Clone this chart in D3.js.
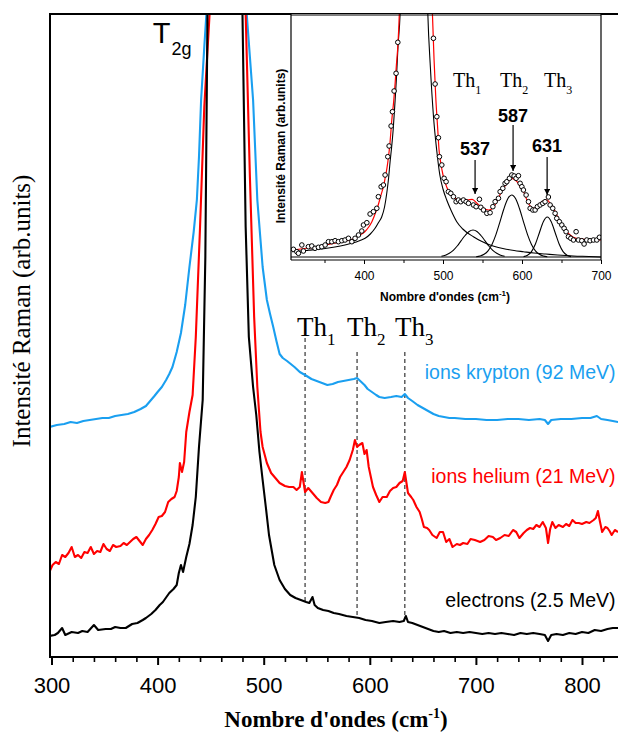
<!DOCTYPE html>
<html><head><meta charset="utf-8">
<script src="https://cdn.jsdelivr.net/npm/d3@7"></script>
<style>body{margin:0;background:#fff}svg{display:block}</style>
</head><body>
<svg id="c" width="618" height="733"></svg>
<script>
// ---------- DATA (wavenumber cm-1, intensity arb.units) ----------
const seriesNames = ["ions krypton (92 MeV)", "ions helium (21 MeV)", "electrons (2.5 MeV)"];
const xTicks = [300, 400, 500, 600, 700, 800];
const insetTicks = [400, 500, 600, 700];
const peakNames = ["Th", "Th", "Th"];
const peakIdx = ["1", "2", "3"];
const peakValues = ["537", "587", "631"];

const electrons = [[298,21],[303,22],[306,24],[310,29],[313,22],[319,25],[325,24],[329,26],[334,25],[340,32],[344,27],[351,28],[356,28],[360,30],[365,29],[370,29],[376,33],[381,34],[386,37],[389,39],[394,43],[398,47],[402,52],[405,55],[411,64],[415,68],[418,72],[420,84],[422,92],[424,85],[427,100],[430,113],[433,132],[436,160],[439,210],[442.5,257],[445,400],[447,643],[455,1400],[463,2200],[471,1400],[480,643],[483,430],[486,320],[490,270],[493,242],[496,205],[499,177],[502,150],[505,122],[510,92],[515,77],[520,68],[525,62],[530,59],[535,57],[540,55],[543,54],[546,60],[548,52],[551,49],[556,47],[561,46],[566,44],[571,43],[578,41],[584,40],[590,39],[596,37],[602,36],[609,34],[615,35],[622,36],[628,35],[632,36],[634,41],[636,35],[640,34],[645,32],[650,30],[655,28],[660,26],[665,25],[670,26],[676,24],[682,25],[688,24],[694,25],[700,24],[706,23],[712,24],[718,23],[724,24],[730,23],[736,22],[742,24],[748,23],[754,24],[760,23],[765,22],[768,16],[771,22],[776,23],[782,22],[788,24],[794,23],[800,25],[806,24],[812,27],[818,26],[824,28],[829,29],[834,29]];

const helium = [[298,85],[301,92],[304,95],[307,93],[310,102],[313,100],[316,104],[319,110],[322,100],[325,102],[328,99],[331,105],[334,104],[337,110],[340,103],[343,106],[346,105],[349,113],[352,108],[355,106],[358,112],[361,110],[365,111],[368,114],[371,112],[374,115],[377,118],[380,120],[383,116],[386,112],[389,118],[392,122],[395,127],[398,133],[401,140],[404,141],[407,145],[410,155],[413,158],[416,160],[418,166],[420,180],[421,194],[423,185],[425,195],[427,225],[430,245],[433,262],[436,320],[440,430],[444,550],[449,643],[458,1400],[465,2200],[474,1400],[483,643],[487,480],[491,340],[494,270],[497,225],[499,210],[503,194],[507,184],[511,179],[515,174],[520,171],[524,170],[528,170],[531,167],[534,170],[536,185],[539,165],[542,169],[546,164],[550,159],[554,155],[558,154],[561,155],[563,160],[566,167],[569,172],[572,180],[575,185],[578,190],[581,197],[584,207],[586,217],[588,210],[590,212],[593,214],[595,203],[597,207],[599,190],[601,180],[603,170],[606,162],[609,155],[612,160],[616,160],[619,166],[622,169],[625,170],[628,174],[631,176],[633,185],[636,164],[639,160],[641,157],[644,150],[647,145],[649,138],[651,130],[654,129],[656,127],[659,122],[663,119],[666,125],[669,125],[672,115],[675,118],[678,110],[682,113],[685,112],[688,114],[692,113],[695,118],[699,117],[704,115],[708,117],[712,121],[716,120],[719,117],[723,119],[727,122],[731,121],[735,127],[738,125],[741,119],[745,124],[748,127],[751,129],[754,128],[757,132],[760,130],[763,135],[766,129],[768,114],[770,128],[772,135],[775,129],[778,132],[782,130],[785,133],[788,131],[791,137],[794,134],[797,134],[800,133],[804,135],[807,134],[811,137],[813,139],[815,146],[817,135],[819,125],[822,130],[824,129],[826,126],[828,122],[831,127],[834,125]];

const krypton = [[298,230],[305,232],[312,233],[318,235],[324,234],[330,236],[336,237],[342,238],[348,239],[354,239],[360,241],[366,242],[372,243],[378,245],[384,248],[389,251],[393,256],[397,261],[400,265],[404,270],[408,277],[411,283],[414,290],[418,305],[422,324],[426,352],[430,390],[434,425],[437,457],[439,500],[441,557],[444,610],[446,643],[455,1400],[465,2200],[475,1400],[484,643],[487,600],[490,557],[494,457],[499,390],[503,357],[506,343],[509,330],[512,316],[515,303],[518,299],[522,296],[529,290],[534,285],[539,282],[545,278],[550,276],[555,274],[560,272],[565,273],[570,275],[575,276],[580,277],[585,278],[588,279],[592,275],[595,272],[598,268],[602,265],[606,262],[609,260],[614,259],[620,260],[625,261],[630,260],[633,263],[636,259],[640,256],[645,252],[650,249],[655,246],[660,243],[665,241],[670,240],[675,239],[680,239],[690,238],[700,238],[710,237],[720,237],[730,238],[740,238],[750,237],[760,238],[765,237],[768,233],[771,237],[780,238],[790,238],[800,239],[808,239],[814,241],[818,238],[824,237],[829,236],[834,235]];

// inset: measured points (open circles)
const insetPoints = [[310.6,7.7],[315,5.3],[317,3.7],[321.3,12],[323.3,6],[329.6,10.3],[333.9,11],[338,8.7],[342.3,9.7],[346.6,10.3],[350.8,12],[355,15.3],[359.3,15.3],[363.4,16.3],[367.6,15.3],[371.9,16.3],[376,17],[380.3,18.7],[384.6,15.3],[388.7,18.7],[393,22],[397.2,26],[399.3,32],[403.6,34.3],[407.7,43],[411.9,45.3],[416.2,48.7],[418.2,60.3],[421.7,70.3],[424.6,72],[426.7,82],[430.1,100.3],[431.8,111],[434.3,131],[436,145.3],[438.1,166],[440.6,183.7],[442.8,214.7],[487.9,218.7],[490,173],[492.2,140.3],[494.2,119.3],[495.5,100.3],[498.5,92],[501.4,78.7],[503.9,75.3],[506.8,65.3],[509.9,63.7],[513.2,60.3],[516.6,55.3],[519.5,57],[522.5,55.3],[525.8,57],[529.3,55.3],[532.2,53.7],[538.5,52],[541.9,50.3],[546.1,57.7],[547.9,49.7],[551.2,47],[555.5,43.7],[559.6,44.3],[563.1,50.3],[566,55.3],[570.2,58.7],[572.3,65.3],[575.7,68.7],[578.6,73.7],[580.8,75.3],[584.1,78.7],[587.1,82],[590,81],[592.5,78.7],[595.5,81.3],[597.6,73.7],[599.8,70.3],[601.8,67],[605.2,62],[608.2,55.3],[610.3,48.7],[613.7,47],[616.6,47],[619.5,50.3],[622.9,52],[626.3,53.7],[629.2,55.3],[633.4,60],[635.6,52],[638.9,48.7],[641.9,43.7],[644,38.7],[647.3,35.3],[650.4,32],[653.3,28.7],[655.8,25.3],[658.8,20.3],[661.8,18.7],[665.1,17],[668.5,25.3],[671.4,17],[675.7,16.3],[678.6,13],[682,17],[686.2,16.3],[690.4,17],[694.7,17],[698,19.7]];

// inset: total fit (red)
const insetFit = [[309,7],[320,8],[330,9],[342,10.3],[355,12.5],[370,15],[385,17.7],[395,22],[401,25.3],[406,30],[410,35.3],[414,43],[418,52],[421.5,62],[424.6,70.3],[427,80],[429,88.7],[431,100],[433,115],[435.2,137],[437.5,155],[439.4,173.7],[441,192],[442.8,210.3],[444.7,243],[455,700],[465,1200],[475,700],[486.6,243.7],[488.7,197],[490.8,160.3],[493.4,127],[495,107],[497,95],[500,82],[504.7,70],[509,63],[513,60],[518,58],[522,57],[531,57],[537,57.7],[543,53.7],[551,48.7],[558,47],[564,50],[568,55],[572,62],[576,68],[581,73.7],[587,78.7],[593.6,75.3],[598,70],[602,65.3],[608,53.7],[614.6,48.7],[619,50],[623,53.7],[628,56.5],[632,57],[636,53],[640,48.7],[644,42],[648,35.3],[652,29.5],[656.8,25.3],[661,22],[665,19.7],[670,18.5],[678,17.7],[690,17.2],[700,17]];

// inset: T2g component (black)
const insetT2g = [[309,5.3],[320,6],[330,6.8],[342,7.7],[355,9],[370,11],[384.6,13.7],[395,16.5],[401.4,18.7],[408,23],[414,28.7],[418,34],[422.5,40.3],[426,50],[428.8,63.7],[431,78],[433,95],[435,110],[437,128],[439,152],[441,178],[443,210],[445.7,243],[455,700],[463,1200],[472,700],[480.8,243],[484,190],[488,140],[492,107],[496,82],[500,68],[504.7,57],[510,47],[517.4,35.3],[525,28],[538.5,20.3],[548,16],[559.6,12],[570,9.5],[580,7.8],[590,6.5],[601.8,5.3],[615,4],[630,3],[645,2],[665,1],[685,0.5],[700,0]];

// inset: Th components
const insetTh1 = [[498,0.8],[503,1.8],[508,3.7],[513,6.7],[518,11],[523,16.4],[528,21.5],[533,25.5],[538,27],[543,25.5],[548,21.5],[553,16.4],[558,11],[563,6.7],[568,3.7],[573,1.8],[578,0.8]];
const insetTh2 = [[542,0.3],[547,1],[552,2.7],[557,6.2],[562,12.6],[567,22.4],[572,34.9],[577,48],[582,58.2],[587,62],[592,58.2],[597,48],[602,34.9],[607,22.4],[612,12.6],[617,6.2],[622,2.7],[627,1],[632,0.3]];
const insetTh3 = [[602,0.4],[607,1.8],[612,5.4],[617,13],[622,24.3],[627,35.3],[632,40],[637,35.3],[642,24.3],[647,13],[652,5.4],[657,1.8],[662,0.4]];

// ---------- DRAWING ----------
const BLUE = "#1a9ff0";
const serif = "'Liberation Serif','Times New Roman',serif";
const sans = "'Liberation Sans',Arial,sans-serif";
const svg = d3.select("#c");

const x = d3.scaleLinear().domain([300, 800]).range([51.5, 582]);
const y = d3.scaleLinear().domain([0, 643]).range([657, 14]);

const defs = svg.append("defs");
defs.append("clipPath").attr("id", "mclip").append("rect")
  .attr("x", 50).attr("y", 14).attr("width", 568).attr("height", 643);
defs.append("clipPath").attr("id", "iclip").append("rect")
  .attr("x", 291).attr("y", 14).attr("width", 310).attr("height", 246);
defs.append("marker").attr("id", "arr").attr("viewBox", "0 0 10 10")
  .attr("refX", 10).attr("refY", 5).attr("markerWidth", 7).attr("markerHeight", 6)
  .attr("markerUnits", "userSpaceOnUse").attr("orient", "auto")
  .append("path").attr("d", "M0,0L10,5L0,10z").attr("fill", "#000");

const line = d3.line().x(d => x(d[0])).y(d => y(d[1]));
const gm = svg.append("g").attr("clip-path", "url(#mclip)");

// dashed reference lines
const dashX = [539, 588, 633];
const dashTop = [319, 305, 305];
const dashBot = [55, 40, 40];
dashX.forEach((v, i) => {
  gm.append("line").attr("x1", x(v)).attr("x2", x(v)).attr("y1", y(dashTop[i])).attr("y2", y(dashBot[i]))
    .attr("stroke", "#444").attr("stroke-width", 1.3).attr("stroke-dasharray", "4,3");
});

[[krypton, BLUE], [helium, "#ff0000"], [electrons, "#000"]].forEach(([d, c]) => {
  gm.append("path").datum(d).attr("d", line).attr("fill", "none")
    .attr("stroke", c).attr("stroke-width", 2.1).attr("stroke-linejoin", "round");
});

// frame
svg.append("line").attr("x1", 50).attr("x2", 618).attr("y1", 14).attr("y2", 14).attr("stroke", "#000").attr("stroke-width", 2);
svg.append("line").attr("x1", 50).attr("x2", 50).attr("y1", 13).attr("y2", 658).attr("stroke", "#000").attr("stroke-width", 2);
svg.append("line").attr("x1", 49).attr("x2", 618).attr("y1", 657).attr("y2", 657).attr("stroke", "#000").attr("stroke-width", 2);

// x axis
const minor = d3.range(300, 835, 20).filter(v => v % 100 !== 0);
const axMinor = svg.append("g").attr("transform", "translate(0,657)")
  .call(d3.axisBottom(x).tickValues(minor).tickSize(5).tickFormat(""));
axMinor.select(".domain").remove();
axMinor.selectAll("line").attr("stroke-width", 1.6);
const axMajor = svg.append("g").attr("transform", "translate(0,657)")
  .call(d3.axisBottom(x).tickValues(xTicks).tickSize(8).tickPadding(12).tickFormat(d3.format("d")));
axMajor.select(".domain").remove();
axMajor.selectAll("line").attr("stroke-width", 2);
axMajor.selectAll("text").attr("font-family", sans).attr("font-size", 22).attr("fill", "#000");

// axis titles
const xt = svg.append("text").attr("x", 336).attr("y", 727).attr("text-anchor", "middle")
  .attr("font-family", serif).attr("font-size", 23).attr("font-weight", "bold");
xt.append("tspan").text("Nombre d'ondes (cm");
xt.append("tspan").attr("dy", -9).attr("font-size", 14).text("-1");
xt.append("tspan").attr("dy", 9).text(")");

svg.append("text").attr("transform", "translate(30,311) rotate(-90)").attr("text-anchor", "middle")
  .attr("font-family", serif).attr("font-size", 25).text("Intensité Raman (arb.units)");

// T2g
const t2 = svg.append("text").attr("x", x(395.5)).attr("y", y(614)).attr("font-family", sans).attr("font-size", 29);
t2.append("tspan").text("T");
t2.append("tspan").attr("dy", 12).attr("dx", 1).attr("font-size", 18).text("2g");

// Th labels main
const thX = [531.4, 578.5, 623.7];
thX.forEach((v, i) => {
  const t = svg.append("text").attr("x", x(v)).attr("y", y(321)).attr("font-family", serif).attr("font-size", 27);
  t.append("tspan").text(peakNames[i]);
  t.append("tspan").attr("dy", 9).attr("font-size", 17).text(peakIdx[i]);
});

// series labels
const labV = [278, 174, 50];
const labC = [BLUE, "#ff0000", "#000"];
seriesNames.forEach((s, i) => {
  svg.append("text").attr("x", x(831.6)).attr("y", y(labV[i])).attr("text-anchor", "end")
    .attr("font-family", sans).attr("font-size", 19.5).attr("fill", labC[i]).text(s);
});

// ---------- INSET ----------
const xi = d3.scaleLinear().domain([400, 700]).range([364, 601]);
const yi = d3.scaleLinear().domain([0, 243]).range([257, 14]);
const li = d3.line().x(d => xi(d[0])).y(d => yi(d[1]));

svg.append("rect").attr("x", 291).attr("y", 14).attr("width", 310).attr("height", 246).attr("fill", "#fff");
const gi = svg.append("g").attr("clip-path", "url(#iclip)");
gi.append("line").attr("x1", 291).attr("x2", 601).attr("y1", yi(0)).attr("y2", yi(0)).attr("stroke", "#000").attr("stroke-width", 1);
[insetT2g, insetTh1, insetTh2, insetTh3].forEach(d => {
  gi.append("path").datum(d).attr("d", li.curve(d3.curveMonotoneX)).attr("fill", "none").attr("stroke", "#000").attr("stroke-width", 1.1);
});
gi.append("path").datum(insetFit).attr("d", li.curve(d3.curveMonotoneX)).attr("fill", "none").attr("stroke", "#ff0000").attr("stroke-width", 1.2);
gi.selectAll("circle").data(insetPoints).join("circle")
  .attr("cx", d => xi(d[0])).attr("cy", d => yi(d[1])).attr("r", 2.3)
  .attr("fill", "#fff").attr("stroke", "#000").attr("stroke-width", 1);

// inset frame
svg.append("line").attr("x1", 291).attr("x2", 291).attr("y1", 14).attr("y2", 260).attr("stroke", "#000").attr("stroke-width", 1.2);
svg.append("line").attr("x1", 601).attr("x2", 601).attr("y1", 14).attr("y2", 260).attr("stroke", "#000").attr("stroke-width", 1.2);
svg.append("line").attr("x1", 291).attr("x2", 601).attr("y1", 260).attr("y2", 260).attr("stroke", "#000").attr("stroke-width", 1.2);
svg.append("line").attr("x1", 291).attr("x2", 601).attr("y1", 15).attr("y2", 15).attr("stroke", "#000").attr("stroke-width", 1);

const iMin = svg.append("g").attr("transform", "translate(0,260)")
  .call(d3.axisBottom(xi).tickValues([350, 450, 550, 650]).tickSize(3).tickFormat(""));
iMin.select(".domain").remove();
const iMaj = svg.append("g").attr("transform", "translate(0,260)")
  .call(d3.axisBottom(xi).tickValues(insetTicks).tickSize(4).tickPadding(7).tickFormat(d3.format("d")));
iMaj.select(".domain").remove();
iMaj.selectAll("text").attr("font-family", sans).attr("font-size", 12).attr("fill", "#000");

const it = svg.append("text").attr("x", 445).attr("y", 301).attr("text-anchor", "middle")
  .attr("font-family", sans).attr("font-size", 12).attr("font-weight", "bold");
it.append("tspan").text("Nombre d'ondes (cm");
it.append("tspan").attr("dy", -5).attr("font-size", 8).text("-1");
it.append("tspan").attr("dy", 5).text(")");

svg.append("text").attr("transform", "translate(285,146) rotate(-90)").attr("text-anchor", "middle")
  .attr("font-family", sans).attr("font-size", 12).attr("font-weight", "bold").text("Intensité Raman (arb.units)");

// inset Th labels
const ithX = [512.8, 572.3, 628];
ithX.forEach((v, i) => {
  const t = svg.append("text").attr("x", xi(v)).attr("y", yi(170)).attr("font-family", serif).attr("font-size", 20);
  t.append("tspan").text(peakNames[i]);
  t.append("tspan").attr("dy", 7).attr("font-size", 12).text(peakIdx[i]);
});

// peak value annotations with arrows
const annX = [540.6, 588.7, 631.8];
const annTop = [97, 132, 100];
const annTip = [63, 86, 62];
const annLab = [102, 135, 105];
peakValues.forEach((s, i) => {
  svg.append("line").attr("x1", xi(annX[i])).attr("x2", xi(annX[i]))
    .attr("y1", yi(annTop[i])).attr("y2", yi(annTip[i]))
    .attr("stroke", "#000").attr("stroke-width", 1.2).attr("marker-end", "url(#arr)");
  svg.append("text").attr("x", xi(annX[i])).attr("y", yi(annLab[i])).attr("text-anchor", "middle")
    .attr("font-family", sans).attr("font-size", 18).attr("font-weight", "bold").text(s);
});
</script>
</body></html>
